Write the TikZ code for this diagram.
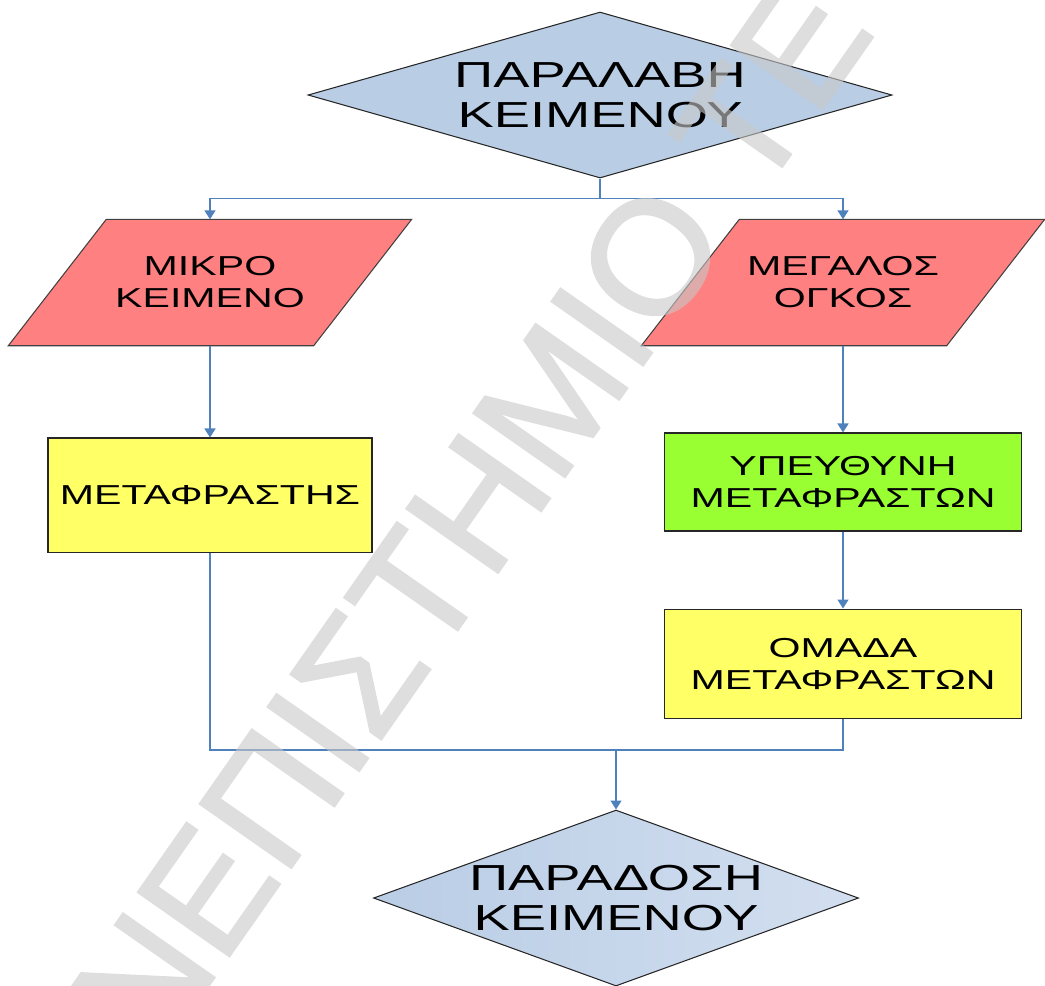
\documentclass[tikz,border=0pt]{standalone}
\usepackage{fontspec}
\setmainfont{Liberation Sans}
\newfontfamily\chartfont[FakeStretch=1.5]{Liberation Sans}
\newfontfamily\markfont[FakeBold=1.6]{Liberation Sans}
\usetikzlibrary{shapes.geometric,arrows.meta,positioning,calc,backgrounds}

\definecolor{diamondblue}{RGB}{185,205,229}
\definecolor{diamondlight}{RGB}{211,223,240}
\definecolor{parared}{RGB}{255,128,128}
\definecolor{boxyellow}{RGB}{255,255,102}
\definecolor{boxgreen}{RGB}{153,255,51}
\definecolor{linkblue}{RGB}{79,129,189}
\definecolor{markgray}{RGB}{200,200,200}

\begin{document}
\begin{tikzpicture}[x=0.1mm,y=-0.1mm,
    bigtext/.style={font=\chartfont\fontsize{10.3pt}{11.4pt}\selectfont, align=center},
    smalltext/.style={font=\chartfont\fontsize{7.8pt}{9.1pt}\selectfont, align=center},
    decision/.style={diamond, draw=black!85, line width=0.3pt, inner sep=-4mm, bigtext},
    iotext/.style={rectangle, inner sep=0pt, minimum width=30.4mm, minimum height=12.5mm, smalltext},
    ioshape/.style={draw=black!75, line width=0.3pt, fill=parared},
    taskbox/.style={rectangle, draw=black!85, line width=0.3pt, inner sep=0pt, smalltext},
    link/.style={draw=linkblue, line width=0.4pt},
    linkarrow/.style={link, -{Triangle[width=1.1mm,length=0.9mm]}},
    watermark/.style={font=\markfont\fontsize{46pt}{48pt}\selectfont, text=markgray, inner sep=0pt}]
    \useasboundingbox (0,0) rectangle (1045,985);
    %Columns - x positions of the two branches%
    %===========================================================
    \def \LeftX {210}; %small text branch
    \def \RightX {843}; %large volume branch
    \def \Slant {49}; %half of the horizontal shift of a parallelogram side
    %Shapes%
    %===========================================================
    \node[decision, fill=diamondblue, aspect=3.5, minimum width=58.4mm, minimum height=16.6mm] (receive) at (600,95) {ΠΑΡΑΛΑΒΗ\\ΚΕΙΜΕΝΟΥ};
    \node[iotext] (small) at (\LeftX,282.5) {ΜΙΚΡΟ\\ΚΕΙΜΕΝΟ};
    \node[iotext] (large) at (\RightX,282.5) {ΜΕΓΑΛΟΣ\\ΟΓΚΟΣ};
    \begin{scope}[on background layer]
    \foreach \n in {small,large}
        \draw[ioshape] ($(\n.north west)+(\Slant,0)$) -- ($(\n.north east)+(\Slant,0)$)
            -- ($(\n.south east)-(\Slant,0)$) -- ($(\n.south west)-(\Slant,0)$) -- cycle;
    \end{scope}
    \node[taskbox, fill=boxyellow, minimum width=32.4mm, minimum height=11.4mm] (translator) at (\LeftX,495) {ΜΕΤΑΦΡΑΣΤΗΣ};
    \node[taskbox, fill=boxgreen, minimum width=35.7mm, minimum height=9.8mm] (head) at (\RightX,482) {ΥΠΕΥΘΥΝΗ\\ΜΕΤΑΦΡΑΣΤΩΝ};
    \node[taskbox, fill=boxyellow, minimum width=35.7mm, minimum height=10.9mm] (team) at (\RightX,663.5) {ΟΜΑΔΑ\\ΜΕΤΑΦΡΑΣΤΩΝ};
    \node[decision, left color=diamondblue, right color=diamondlight, aspect=2.76, minimum width=48.5mm, minimum height=17.6mm] (deliver) at (616,898) {ΠΑΡΑΔΟΣΗ\\ΚΕΙΜΕΝΟΥ};
    %Connectors%
    %===========================================================
    \draw[link] (receive.south) -- ++(0,20) coordinate (split); %branch point
    \draw[linkarrow] (split) -| (small.north);
    \draw[linkarrow] (split) -| (large.north);
    \draw[linkarrow] (small.south) -- (translator.north);
    \draw[linkarrow] (large.south) -- (head.north);
    \draw[linkarrow] (head.south) -- (team.north);
    \coordinate (join) at (616,750); %merge point
    \draw[link] (translator.south) |- (join);
    \draw[link] (team.south) |- (join);
    \draw[linkarrow] (join) -- (deliver.north);
    %Watermark%
    %===========================================================
    \begin{scope}[transparency group, opacity=0.6]
    \clip (0,0) rectangle (1045,985);
    \node[watermark, rotate=55, anchor=west] (stamp) at (-20,1215) {ΠΑΝΕΠΙΣΤΗΜΙΟ ΤΕ};
    \end{scope}
\end{tikzpicture}
\end{document}
